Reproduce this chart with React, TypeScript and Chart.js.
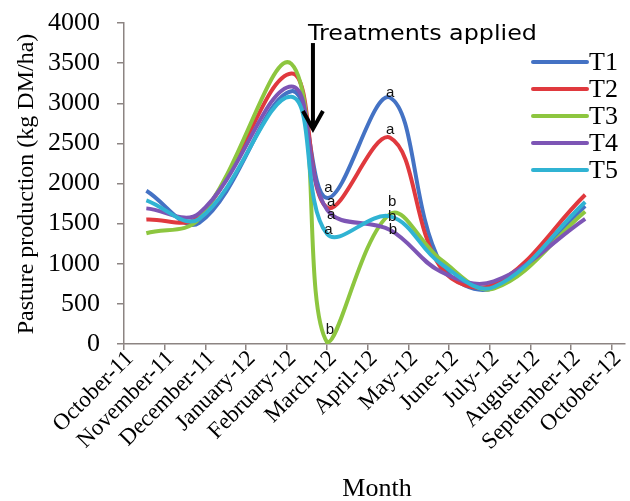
import { useEffect, useRef } from 'react';
import { Chart, registerables } from 'chart.js';
Chart.register(...registerables);

// ---- data ----
const tickLabels = [
  'October-11', 'November-11', 'December-11', 'January-12', 'February-12', 'March-12',
  'April-12', 'May-12', 'June-12', 'July-12', 'August-12', 'September-12', 'October-12',
];
// sampling dates expressed as month offsets from 1 October 2011
const sampleMonths = [0.55, 1.85, 4.12, 5.0, 6.55, 7.8, 9.1, 11.35];
const seriesNames = ['T1', 'T2', 'T3', 'T4', 'T5'];
const t1 = [1910, 1510, 3150, 1820, 3070, 1000, 700, 1720];
const t2 = [1550, 1590, 3370, 1700, 2570, 950, 740, 1860];
const t3 = [1380, 1560, 3490, 20, 1620, 1050, 690, 1650];
const t4 = [1690, 1630, 3210, 1670, 1420, 900, 780, 1560];
const t5 = [1790, 1560, 3080, 1370, 1590, 1000, 710, 1770];
const seriesColors = ['#4472c4', '#e0393e', '#8dc63f', '#7d55b5', '#30b3d3'];

// significance letters
const letterMonths = [5.03, 5.1, 5.1, 5.03, 5.07, 6.55, 6.55, 6.6, 6.6, 6.62];
const letterValues = [1944, 1769, 1607, 1420, 174, 3127, 2666, 1769, 1582, 1420];
const letterTexts = ['a', 'a', 'a', 'a', 'b', 'a', 'a', 'b', 'b', 'b'];

const annotationText = 'Treatments applied';
const arrowMonth = 4.65;
const arrowTop = 3750;
const arrowTip = 2680;

const yTitle = 'Pasture production (kg DM/ha)';
const xTitle = 'Month';

const axisColor = '#8c8482';
const serif = '"Liberation Serif", "Times New Roman", serif';

const overlayPlugin = {
  id: 'overlay',
  afterDraw(chart: any) {
    const ctx = chart.ctx as CanvasRenderingContext2D;
    const xs = chart.scales.x;
    const ys = chart.scales.y;
    const area = chart.chartArea;
    ctx.save();

    // x tick labels (rotated 45 degrees, anchored at each tick of the x scale)
    ctx.fillStyle = '#000';
    ctx.font = `23px ${serif}`;
    ctx.textAlign = 'right';
    ctx.textBaseline = 'middle';
    tickLabels.forEach((lab, i) => {
      const px = xs.getPixelForValue(i);
      ctx.save();
      ctx.translate(px + 6, area.bottom + 11);
      ctx.rotate(-Math.PI / 4);
      ctx.fillText(lab, 0, 0);
      ctx.restore();
    });

    // letters
    ctx.font = '15px "Liberation Sans", Arial, sans-serif';
    ctx.fillStyle = '#111';
    ctx.textAlign = 'center';
    ctx.textBaseline = 'middle';
    letterTexts.forEach((t, i) => {
      ctx.fillText(t, xs.getPixelForValue(letterMonths[i]), ys.getPixelForValue(letterValues[i]));
    });

    // arrow
    const ax = xs.getPixelForValue(arrowMonth);
    const aTop = ys.getPixelForValue(arrowTop);
    const aTip = ys.getPixelForValue(arrowTip);
    ctx.strokeStyle = '#000';
    ctx.lineWidth = 4;
    ctx.lineCap = 'butt';
    ctx.beginPath();
    ctx.moveTo(ax, aTop);
    ctx.lineTo(ax, aTip - 3);
    ctx.stroke();
    ctx.lineJoin = 'miter';
    ctx.beginPath();
    ctx.moveTo(ax - 10, aTip - 18);
    ctx.lineTo(ax, aTip);
    ctx.lineTo(ax + 10, aTip - 18);
    ctx.stroke();

    // annotation text, stretched to the reference width
    ctx.font = '21px "DejaVu Sans", sans-serif';
    ctx.textAlign = 'left';
    ctx.textBaseline = 'alphabetic';
    ctx.fillStyle = '#000';
    const w = ctx.measureText(annotationText).width;
    ctx.save();
    ctx.translate(ax - 5, aTop - 3);
    ctx.scale(229 / w, 1);
    ctx.fillText(annotationText, 0, 0);
    ctx.restore();

    // legend
    ctx.textBaseline = 'middle';
    ctx.font = `26px ${serif}`;
    seriesNames.forEach((name, i) => {
      const y = area.top + 39 + i * 27;
      ctx.strokeStyle = seriesColors[i];
      ctx.lineWidth = 4;
      ctx.lineCap = 'round';
      ctx.beginPath();
      ctx.moveTo(area.right - 92, y);
      ctx.lineTo(area.right - 38, y);
      ctx.stroke();
      ctx.fillStyle = '#000';
      ctx.fillText(name, area.right - 36, y + 1);
    });

    // axis titles
    ctx.fillStyle = '#000';
    ctx.textAlign = 'center';
    ctx.font = `24px ${serif}`;
    ctx.save();
    ctx.translate(27, 184);
    ctx.rotate(-Math.PI / 2);
    ctx.textBaseline = 'middle';
    ctx.fillText(yTitle, 0, 0);
    ctx.restore();
    ctx.font = `26px ${serif}`;
    ctx.textBaseline = 'middle';
    ctx.fillText(xTitle, 377, 489);

    ctx.restore();
  },
};

export default function App() {
  const ref = useRef<HTMLCanvasElement | null>(null);
  useEffect(() => {
    if (!ref.current) return;
    const series = [t1, t2, t3, t4, t5];
    const chart: any = new Chart(ref.current, {
      type: 'line',
      data: {
        datasets: series.map((vals, i) => ({
          label: seriesNames[i],
          data: vals.map((v, j) => ({ x: sampleMonths[j], y: v })),
          borderColor: seriesColors[i],
          backgroundColor: seriesColors[i],
          borderWidth: 4,
          pointRadius: 0,
          tension: 0.38,
          fill: false,
          order: 4 - i,
        })),
      },
      options: {
        animation: false,
        responsive: true,
        maintainAspectRatio: false,
        layout: { padding: { top: 23, right: 5, left: 0, bottom: 0 } },
        plugins: { legend: { display: false }, tooltip: { enabled: false } },
        scales: {
          x: {
            type: 'linear',
            min: 0,
            max: 12.33,
            afterBuildTicks: (scale: any) => {
              scale.ticks = tickLabels.map((_, i) => ({ value: i }));
            },
            afterFit: (scale: any) => {
              scale.height = 157;
            },
            ticks: { display: false },
            grid: { drawOnChartArea: false, drawTicks: true, tickLength: 6, color: axisColor, lineWidth: 1.5 },
            border: { color: axisColor, width: 1.5 },
          },
          y: {
            min: 0,
            max: 4000,
            afterFit: (scale: any) => {
              scale.width = 124;
              scale.paddingTop = 0;
              scale.paddingBottom = 0;
            },
            ticks: {
              stepSize: 500,
              padding: 17,
              color: '#000',
              font: { family: serif, size: 26 },
              callback: (v: any) => String(v),
            },
            grid: { drawOnChartArea: false, drawTicks: true, tickLength: 7, color: axisColor, lineWidth: 1.5 },
            border: { color: axisColor, width: 1.5 },
          },
        },
      },
      plugins: [overlayPlugin],
    });
    return () => chart.destroy();
  }, []);
  return (
    <div style={{ position: 'fixed', left: 0, top: 0, width: 630, height: 501, background: '#fff' }}>
      <canvas ref={ref} />
    </div>
  );
}
